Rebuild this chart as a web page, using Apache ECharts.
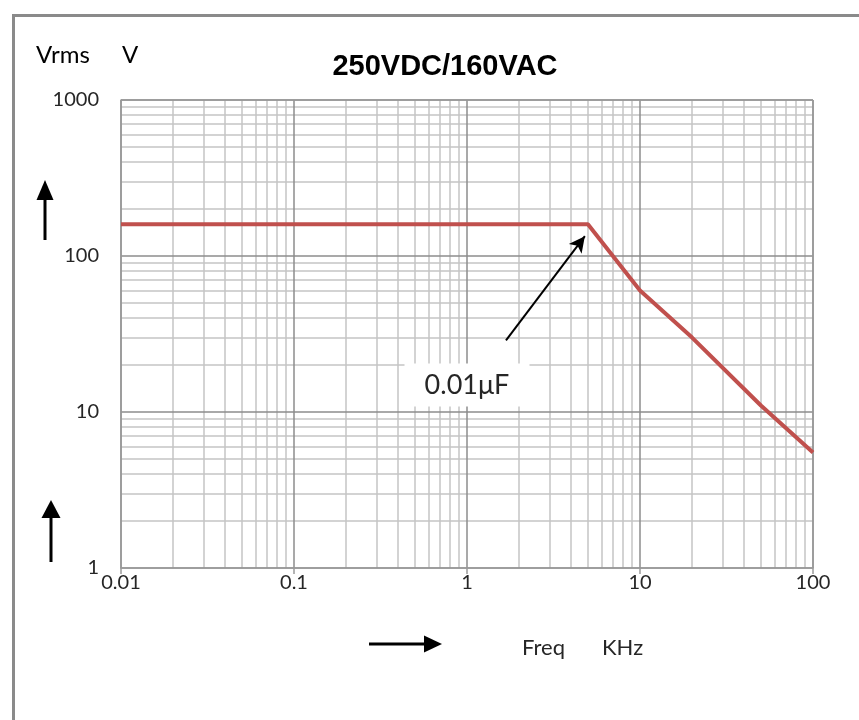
<!DOCTYPE html>
<html>
<head>
<meta charset="utf-8">
<script src="https://cdn.jsdelivr.net/npm/echarts@6/dist/echarts.min.js"></script>
<style>
  html, body { margin: 0; padding: 0; background: #fff; }
  #chart { width: 859px; height: 720px; }
</style>
</head>
<body>
<div id="chart"></div>
<script>
// ---- data ----
const freqKHz = [0.01, 5, 10, 20, 50, 100];
const vrmsV   = [160, 160, 60, 30, 11, 5.5];

const xTickValues = [0.01, 0.1, 1, 10, 100];
const yTickValues = [1, 10, 100, 1000];

const xDecades = [0.01, 0.1, 1, 10];
const yDecades = [1, 10, 100];
const minorSteps = [2, 3, 4, 5, 6, 7, 8, 9];

const titleText = '250VDC/160VAC';
const yUnitText = ['Vrms', 'V'];
const xUnitText = ['Freq', 'KHz'];

const noteText = '0.01\u03bcF';
const noteArrowFrom = [1.68, 28.8];
const noteArrowTo = [4.8, 134];
const noteBoxAt = [1.0, 14.9];

// ---- build chart ----
const minorX = [];
xDecades.forEach(d => minorSteps.forEach(m => minorX.push(+(d * m).toPrecision(6))));
const minorY = [];
yDecades.forEach(d => minorSteps.forEach(m => minorY.push(+(d * m).toPrecision(6))));

const lineData = freqKHz.map((f, i) => [f, vrmsV[i]]);

const FONT = 'Lato, "Open Sans", sans-serif';
const chart = echarts.init(document.getElementById('chart'), null, { renderer: 'canvas' });

const option = {
  animation: false,
  backgroundColor: '#ffffff',
  grid: { left: 121, right: 46, top: 100, bottom: 152, show: false },
  xAxis: {
    type: 'log', logBase: 10, min: xTickValues[0], max: xTickValues[xTickValues.length - 1],
    splitNumber: xTickValues.length - 1,
    axisLine: { show: true, lineStyle: { color: '#9a9a9a', width: 1.5 } },
    axisTick: { show: true, length: 6, lineStyle: { color: '#9a9a9a', width: 1.5 } },
    axisLabel: { color: '#262626', fontFamily: FONT, fontSize: 20, margin: 5,
      formatter: v => String(+v.toPrecision(6)) },
    splitLine: { show: true, lineStyle: { color: '#8c8c8c', width: 1.5 } },
    minorTick: { show: false }, minorSplitLine: { show: false },
    z: 1
  },
  yAxis: {
    type: 'log', logBase: 10, min: yTickValues[0], max: yTickValues[yTickValues.length - 1],
    splitNumber: yTickValues.length - 1,
    axisLine: { show: true, lineStyle: { color: '#9a9a9a', width: 1.5 } },
    axisTick: { show: false },
    axisLabel: { color: '#262626', fontFamily: FONT, fontSize: 20, margin: 22,
      formatter: v => String(+v.toPrecision(6)) },
    splitLine: { show: true, lineStyle: { color: '#8c8c8c', width: 1.5 } },
    z: 1
  },
  series: [
    {
      name: 'minor-grid', type: 'line', data: [], z: 1, silent: true,
      markLine: {
        z: 0, silent: true, symbol: ['none', 'none'], animation: false,
        label: { show: false },
        lineStyle: { color: '#c4c4c4', width: 1.5, type: 'solid' },
        emphasis: { disabled: true },
        data: minorX.map(v => ({ xAxis: v })).concat(minorY.map(v => ({ yAxis: v })))
      }
    },
    {
      name: 'border', type: 'line', data: [], z: 1, silent: true,
      markLine: {
        z: 1, silent: true, symbol: ['none', 'none'], animation: false,
        label: { show: false },
        lineStyle: { color: '#9a9a9a', width: 1.5, type: 'solid' },
        emphasis: { disabled: true },
        data: [{ xAxis: xTickValues[xTickValues.length - 1] }, { yAxis: yTickValues[yTickValues.length - 1] }]
      }
    },
    {
      name: 'Vrms', type: 'line', data: lineData, z: 4,
      showSymbol: false, symbol: 'none', smooth: false,
      lineStyle: { color: '#C0504D', width: 4 },
      itemStyle: { color: '#C0504D' }
    },
    {
      name: 'note', type: 'line', data: [], z: 6, silent: true,
      markLine: {
        z: 6, silent: true, animation: false,
        symbol: ['none', 'arrow'], symbolSize: [12, 16],
        label: { show: false },
        lineStyle: { color: '#000000', width: 2, type: 'solid' },
        emphasis: { disabled: true },
        data: [[{ coord: noteArrowFrom }, { coord: noteArrowTo }]]
      },
      markPoint: {
        z: 7, silent: true, animation: false,
        symbol: 'rect', symbolSize: [125, 43],
        itemStyle: { color: '#ffffff' },
        label: { show: true, position: 'inside', formatter: noteText,
          color: '#262626', fontFamily: FONT, fontSize: 27 },
        emphasis: { disabled: true },
        data: [{ coord: noteBoxAt }]
      }
    }
  ],
  graphic: [
    { type: 'rect', silent: true, z: 100,
      shape: { x: 13.5, y: 15.5, width: 1000, height: 1000 },
      style: { fill: 'none', stroke: '#8a8a8a', lineWidth: 3 } },
    { type: 'text', silent: true, z: 100,
      style: { x: 445, y: 67, text: titleText, align: 'center', verticalAlign: 'middle',
        font: 'bold 29px "Liberation Sans", Arial, sans-serif', fill: '#000' } },
    { type: 'text', silent: true, z: 100,
      style: { x: 36, y: 55, text: yUnitText[0], align: 'left', verticalAlign: 'middle',
        font: '24px ' + FONT, fill: '#000' } },
    { type: 'text', silent: true, z: 100,
      style: { x: 122, y: 55, text: yUnitText[1], align: 'left', verticalAlign: 'middle',
        font: '24px ' + FONT, fill: '#000' } },
    { type: 'text', silent: true, z: 100,
      style: { x: 522, y: 648, text: xUnitText[0], align: 'left', verticalAlign: 'middle',
        font: '22px ' + FONT, fill: '#262626' } },
    { type: 'text', silent: true, z: 100,
      style: { x: 602, y: 648, text: xUnitText[1], align: 'left', verticalAlign: 'middle',
        font: '22px ' + FONT, fill: '#262626' } },
    // up arrow 1
    { type: 'line', silent: true, z: 100, shape: { x1: 45, y1: 240, x2: 45, y2: 196 },
      style: { stroke: '#000', lineWidth: 3 } },
    { type: 'polygon', silent: true, z: 100, shape: { points: [[45, 180], [36.5, 200], [53.5, 200]] },
      style: { fill: '#000' } },
    // up arrow 2
    { type: 'line', silent: true, z: 100, shape: { x1: 51, y1: 562, x2: 51, y2: 514 },
      style: { stroke: '#000', lineWidth: 3 } },
    { type: 'polygon', silent: true, z: 100, shape: { points: [[51, 500], [41.5, 518], [60.5, 518]] },
      style: { fill: '#000' } },
    // right arrow
    { type: 'line', silent: true, z: 100, shape: { x1: 369, y1: 644, x2: 428, y2: 644 },
      style: { stroke: '#000', lineWidth: 3 } },
    { type: 'polygon', silent: true, z: 100, shape: { points: [[442, 644], [424, 635.5], [424, 652.5]] },
      style: { fill: '#000' } }
  ]
};
chart.setOption(option);
</script>
</body>
</html>
